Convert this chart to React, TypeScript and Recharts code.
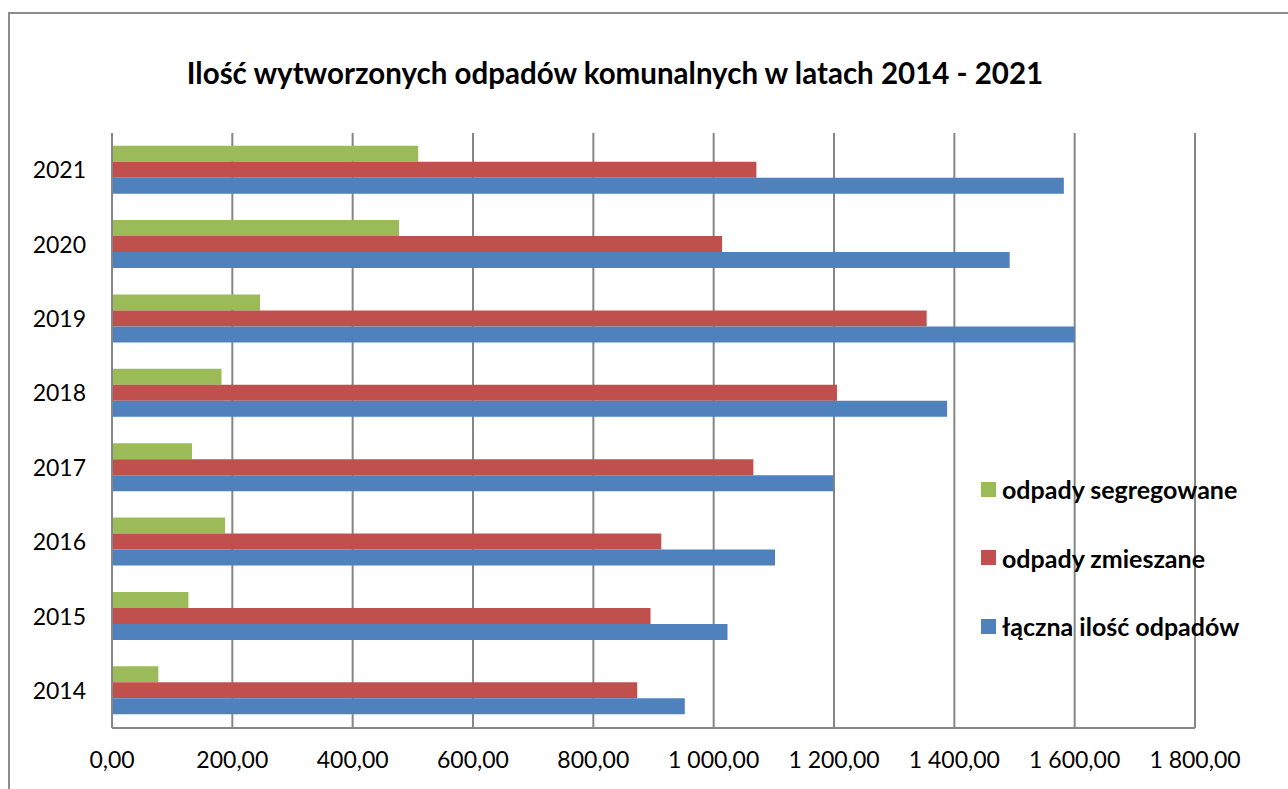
import { BarChart, Bar, XAxis, YAxis, CartesianGrid, Legend } from 'recharts'

const years = ['2014', '2015', '2016', '2017', '2018', '2019', '2020', '2021']
const segregowane = [77, 127, 188, 133, 182, 246, 477, 509]
const zmieszane = [873, 895, 913, 1066, 1205, 1354, 1014, 1071]
const laczna = [952, 1023, 1102, 1199, 1388, 1600, 1492, 1582]
const xTicks = [0, 200, 400, 600, 800, 1000, 1200, 1400, 1600, 1800]

const seriesInfo = [
  { key: 'seg', name: 'odpady segregowane', color: '#9BBB59' },
  { key: 'zm', name: 'odpady zmieszane', color: '#C0504D' },
  { key: 'lacz', name: 'łączna ilość odpadów', color: '#4F81BD' },
]

// top of the chart is the latest year
const data = years
  .map((year, i) => ({ year, seg: segregowane[i], zm: zmieszane[i], lacz: laczna[i] }))
  .reverse()

const FONT = 'Lato, "Open Sans", sans-serif'

const formatPl = (v: number) => {
  const [int, dec] = v.toFixed(2).split('.')
  return int.replace(/\B(?=(\d{3})+(?!\d))/g, ' ') + ',' + dec
}

const LegendBox = () => (
  <div style={{ fontFamily: FONT, fontWeight: 700, fontSize: 25, color: '#000' }}>
    {seriesInfo.map((s) => (
      <div key={s.key} style={{ display: 'flex', alignItems: 'center', height: 68.5 }}>
        <span style={{ width: 15, height: 15, background: s.color, marginRight: 6, display: 'inline-block' }} />
        <span>{s.name}</span>
      </div>
    ))}
  </div>
)

export default function App() {
  return (
    <div style={{ position: 'absolute', left: 0, top: 0, width: 1288, height: 789, background: '#fff', overflow: 'hidden' }}>
      <div
        style={{
          position: 'absolute', left: 8, top: 12, width: 1300, height: 800,
          border: '2px solid #8c8c8c', boxSizing: 'border-box',
        }}
      />
      <div
        style={{
          position: 'absolute', left: 0, top: 55, width: 1230, textAlign: 'center',
          fontFamily: FONT, fontWeight: 700, fontSize: 29.5, color: '#000',
        }}
      >
        Ilość wytworzonych odpadów komunalnych w latach 2014 - 2021
      </div>
      <BarChart
        width={1288}
        height={789}
        data={data}
        layout="vertical"
        margin={{ top: 133, right: 93, bottom: 0, left: 0 }}
        barCategoryGap="17%"
        barGap={0}
        style={{ position: 'absolute', left: 0, top: 0 }}
      >
        <CartesianGrid vertical horizontal={false} stroke="#868686" strokeWidth={2} />
        <XAxis
          type="number"
          domain={[0, 1800]}
          ticks={xTicks}
          tickFormatter={formatPl}
          axisLine={{ stroke: '#868686', strokeWidth: 2 }}
          tickLine={false}
          tickMargin={18}
          tick={{ fontSize: 23, fill: '#000', fontFamily: FONT }}
          height={61}
          allowDataOverflow
        />
        <YAxis
          type="category"
          dataKey="year"
          width={112}
          axisLine={{ stroke: '#868686', strokeWidth: 2 }}
          tickLine={false}
          tickMargin={20}
          tick={{ fontSize: 23, fill: '#000', fontFamily: FONT }}
        />
        <Legend
          layout="vertical"
          align="center"
          verticalAlign="middle"
          content={<LegendBox />}
          wrapperStyle={{ position: 'absolute', left: 981, top: 455, width: 300 }}
        />
        {seriesInfo.map((s) => (
          <Bar key={s.key} dataKey={s.key} name={s.name} fill={s.color} isAnimationActive={false} />
        ))}
      </BarChart>
    </div>
  )
}
